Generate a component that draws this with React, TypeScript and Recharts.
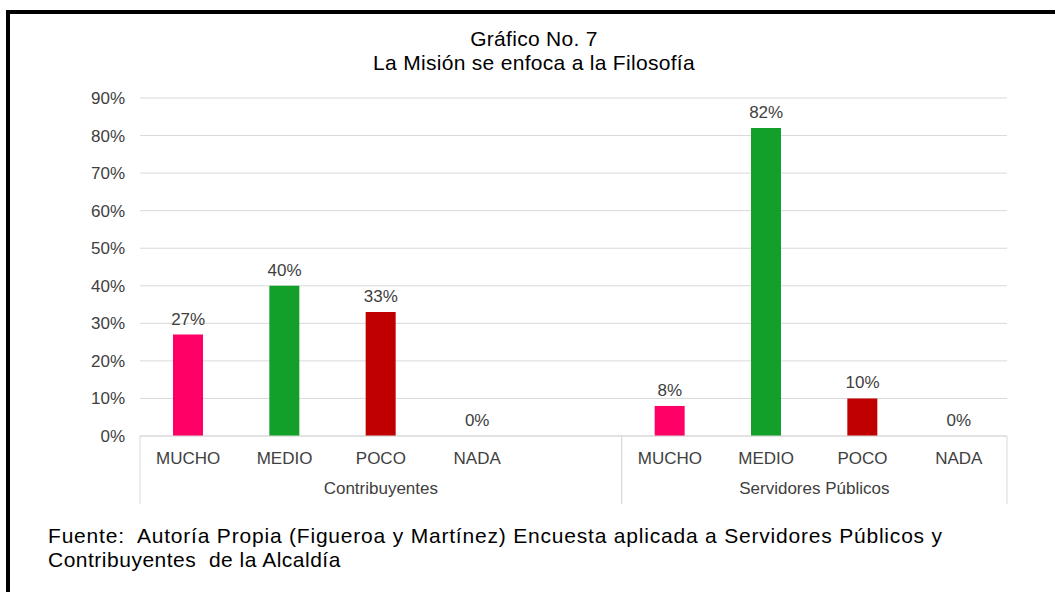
import React from 'react';
import { ComposedChart, Bar, Line, XAxis, YAxis, CartesianGrid, Cell, LabelList } from 'recharts';

// survey answers, one list per group
const answers = ['MUCHO', 'MEDIO', 'POCO', 'NADA'];
const groupNames = ['Contribuyentes', 'Servidores Públicos'];
const contribuyentes = [27, 40, 33, 0];
const servidores = [8, 82, 10, 0];
const answerColors = ['#FF0066', '#13A02A', '#C00000', '#7F7F7F'];
const yTicks = [0, 10, 20, 30, 40, 50, 60, 70, 80, 90];

const W = 1055;
const H = 592;
const M = { top: 98, right: 48, bottom: 96, left: 80 };
const Y_AXIS_W = 60;
const PLOT_W = W - M.left - Y_AXIS_W - M.right;

// Excel left an empty slot at the end of the first group
type Row = { key: string; answer: string; value: number | null; color: string };
const rows: Row[] = [
  ...contribuyentes.map((v, i) => ({ key: 'c' + i, answer: answers[i], value: v, color: answerColors[i] })),
  { key: 'gap', answer: '', value: null, color: 'transparent' },
  ...servidores.map((v, i) => ({ key: 's' + i, answer: answers[i], value: v, color: answerColors[i] })),
];

// index spans of each group on the category axis
const groupSpans = [
  { name: groupNames[0], from: 0, to: contribuyentes.length },
  { name: groupNames[1], from: contribuyentes.length + 1, to: rows.length - 1 },
];

const band = PLOT_W / rows.length;
const textColor = '#404040';
const lineColor = '#D9D9D9';
const font = 'Liberation Sans, Arial, sans-serif';

const CategoryTick = (props: any) => {
  const { x, y, index } = props;
  const row = rows[index];
  const parts: React.ReactNode[] = [];
  parts.push(
    <text key="t" x={x} y={y + 28} textAnchor="middle" fontSize={17} fill={textColor} fontFamily={font}>
      {row ? row.answer : ''}
    </text>
  );
  groupSpans.forEach((g, gi) => {
    if (index === g.from) {
      const sx = x - band / 2;
      parts.push(<line key={'l' + gi} x1={sx} x2={sx} y1={y} y2={y + 68} stroke={lineColor} />);
      const cx = x + ((g.to - g.from) / 2) * band;
      parts.push(
        <text key={'g' + gi} x={cx} y={y + 58} textAnchor="middle" fontSize={17} fill={textColor} fontFamily={font}>
          {g.name}
        </text>
      );
    }
    if (index === g.to) {
      const ex = x + band / 2;
      parts.push(<line key={'r' + gi} x1={ex} x2={ex} y1={y} y2={y + 68} stroke={lineColor} />);
    }
  });
  return <g>{parts}</g>;
};

// bar LabelList skips zero-height bars, so labels ride on an invisible line
const ValueLabel = (props: any) => {
  const { x, y, value } = props;
  if (value === null || value === undefined) return null;
  return (
    <text x={x} y={y - 10} textAnchor="middle" fontSize={17} fill={textColor} fontFamily={font}>
      {`${value}%`}
    </text>
  );
};

const App: React.FC = () => {
  return (
    <div style={{ position: 'fixed', left: 0, top: 0, width: W, height: H, background: '#fff', fontFamily: font }}>
      <div style={{ position: 'absolute', left: 6, top: 10, right: -10, bottom: -10, borderLeft: '4px solid #000', borderTop: '4px solid #000' }} />
      <div style={{ position: 'absolute', left: 234, width: 600, top: 27, textAlign: 'center', fontSize: 21, lineHeight: '23.5px', color: '#000', letterSpacing: '0.3px' }}>
        <div>Gráfico No. 7</div>
        <div>La Misión se enfoca a la Filosofía</div>
      </div>
      <div style={{ position: 'absolute', left: 48, top: 524, fontSize: 21, lineHeight: '24px', color: '#000', whiteSpace: 'pre' }}>
        <div style={{ letterSpacing: '0.8px' }}>{'Fuente:  Autoría Propia (Figueroa y Martínez) Encuesta aplicada a Servidores Públicos y'}</div>
        <div style={{ letterSpacing: '0.5px' }}>{'Contribuyentes  de la Alcaldía'}</div>
      </div>
      <div style={{ position: 'absolute', left: 0, top: 0 }}>
        <ComposedChart width={W} height={H} data={rows} margin={M}>
          <CartesianGrid vertical={false} stroke={lineColor} />
          <XAxis
            dataKey="key"
            interval={0}
            height={60}
            tickLine={false}
            tickSize={0}
            tickMargin={0}
            axisLine={{ stroke: lineColor }}
            tick={<CategoryTick />}
          />
          <YAxis
            width={Y_AXIS_W}
            domain={[0, 90]}
            ticks={yTicks}
            axisLine={false}
            tickLine={false}
            tickMargin={9}
            tickFormatter={(v: number) => `${v}%`}
            tick={{ fontSize: 17, fill: textColor, fontFamily: font }}
          />
          <Bar dataKey="value" barSize={30} isAnimationActive={false}>
            {rows.map((r) => (
              <Cell key={r.key} fill={r.color} />
            ))}
          </Bar>
          <Line dataKey="value" stroke="none" dot={false} activeDot={false} legendType="none" isAnimationActive={false}>
            <LabelList dataKey="value" content={<ValueLabel />} />
          </Line>
        </ComposedChart>
      </div>
    </div>
  );
};

export default App;
